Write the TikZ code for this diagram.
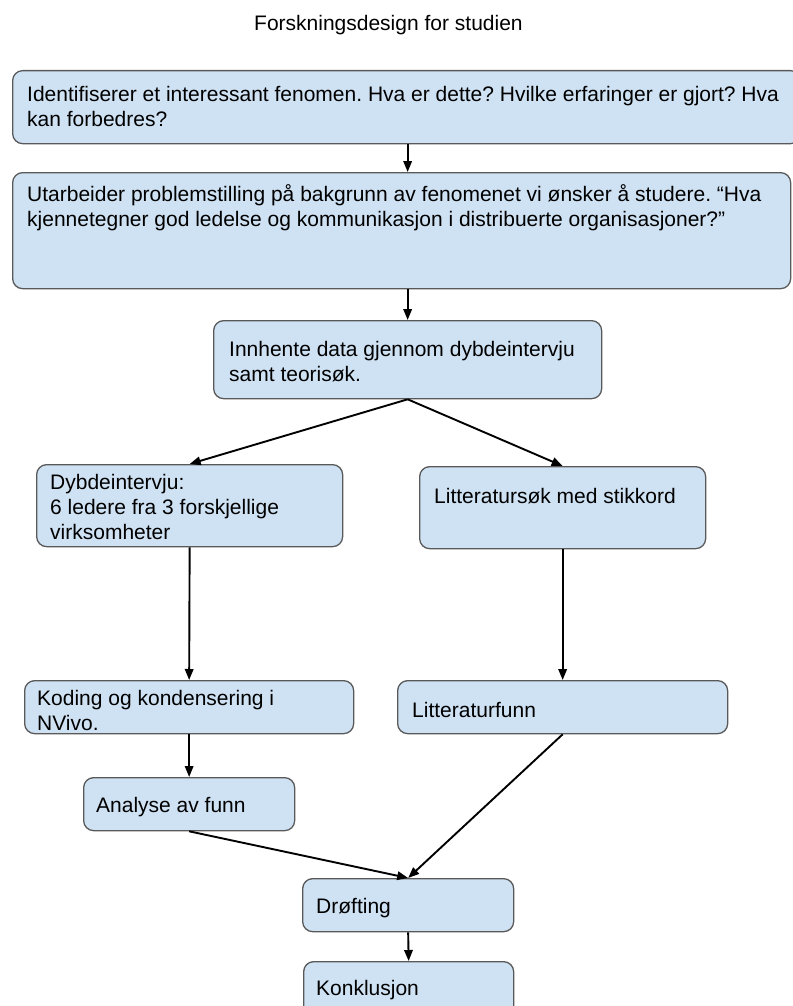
\documentclass[tikz,border=0pt]{standalone}
\usepackage{fontspec}
\setmainfont{Liberation Sans}
\usetikzlibrary{arrows.meta}
\frenchspacing

\definecolor{boxfill}{RGB}{207,226,243}
\definecolor{boxline}{RGB}{89,89,89}

\tikzset{
  stepbox/.style={draw=boxline, line width=1.3pt, fill=boxfill, rounded corners=10pt, anchor=north west, inner sep=0pt},
  boxtext/.style={anchor=north west, inner sep=0pt, align=left, font=\fontsize{21}{25}\selectfont},
  flow/.style={line width=1.9pt, -{Triangle[length=11pt,width=8.5pt]}},
}

\begin{document}
\begin{tikzpicture}[x=1pt,y=1pt,yscale=-1]
\useasboundingbox (0,0) rectangle (792,1006);

% Boxes
\node[stepbox, minimum width=788, minimum height=73] (b1) at (12,70) {};
\node[stepbox, minimum width=778, minimum height=116] (b2) at (12,172) {};
\node[stepbox, minimum width=388, minimum height=78] (b3) at (213,320) {};
\node[stepbox, minimum width=306, minimum height=82] (b4) at (36,464) {};
\node[stepbox, minimum width=286, minimum height=82] (b5) at (419,466) {};
\node[stepbox, minimum width=329, minimum height=53] (b6) at (24,680) {};
\node[stepbox, minimum width=330, minimum height=53] (b7) at (397,680) {};
\node[stepbox, minimum width=211, minimum height=53] (b8) at (83,777) {};
\node[stepbox, minimum width=211, minimum height=53] (b9) at (302,878) {};
\node[stepbox, minimum width=210, minimum height=60] (b10) at (303,961) {};

% Arrows
\draw[flow] (b1.south -| b3.north) -- (b2.north -| b3.north);
\draw[flow] (b2.south -| b3.north) -- (b3.north);
\draw[flow] (b3.south) -- (b4.north);
\draw[flow] (b3.south) -- (b5.north);
\draw[flow] (b4.south) -- (b6.north);
\draw[flow] (b5.south) -- (b7.north);
\draw[flow] (b6.south) -- (b8.north);
\draw[flow] (b8.south) -- (b9.north);
\draw[flow] (b7.south) -- (b9.north);
\draw[flow] (b9.south) -- (b10.north);

% Text Node
\node[boxtext] (title) at (254,15) {Forskningsdesign for studien};
% Text Node
\node[boxtext] (t1) at (27,86) {Identifiserer et interessant fenomen. Hva er dette? Hvilke erfaringer er gjort? Hva\\kan forbedres?};
% Text Node
\node[boxtext] (t2) at (27,184) {Utarbeider problemstilling på bakgrunn av fenomenet vi ønsker å studere. “Hva\\kjennetegner god ledelse og kommunikasjon i distribuerte organisasjoner?”};
% Text Node
\node[boxtext] (t3) at (229,341.5) {Innhente data gjennom dybdeintervju\\samt teorisøk.};
% Text Node
\node[boxtext] (t4) at (50,474) {Dybdeintervju:\\6 ledere fra 3 forskjellige\\virksomheter};
% Text Node
\node[boxtext] (t5) at (434,488) {Litteratursøk med stikkord};
% Text Node
\node[boxtext] (t6) at (37,690) {Koding og kondensering i\\NVivo.};
% Text Node
\node[boxtext] (t7) at (412,702) {Litteraturfunn};
% Text Node
\node[boxtext] (t8) at (96,797) {Analyse av funn};
% Text Node
\node[boxtext] (t9) at (316,898) {Drøfting};
% Text Node
\node[boxtext] (t10) at (316,980) {Konklusjon};

\end{tikzpicture}
\end{document}
